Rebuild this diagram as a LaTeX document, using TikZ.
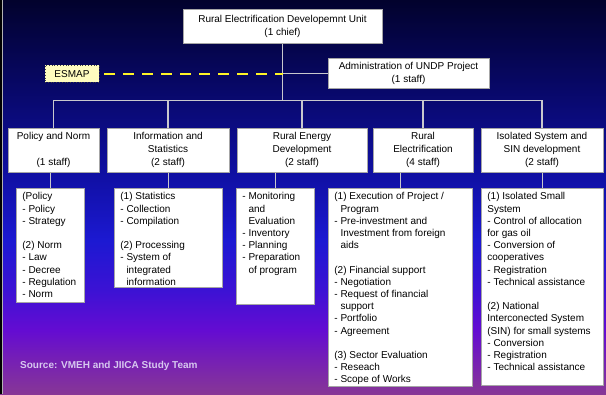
\documentclass[tikz,border=0pt]{standalone}
\usepackage{fontspec}
\setmainfont{Liberation Sans}
\usetikzlibrary{positioning,calc}

\definecolor{bgtop}{RGB}{2,2,45}
\definecolor{bgnavy}{RGB}{8,8,105}
\definecolor{bgblue}{RGB}{15,15,160}
\definecolor{bgroyal}{RGB}{28,25,210}
\definecolor{bgindigo}{RGB}{60,18,212}
\definecolor{bgviolet}{RGB}{100,12,210}
\definecolor{bgpurple}{RGB}{118,32,180}
\definecolor{bgbottom}{RGB}{135,55,150}
\definecolor{sourcetext}{RGB}{215,200,240}
\definecolor{linkgray}{RGB}{200,200,205}

\pgfdeclareverticalshading{slidebg}{100bp}{color(0bp)=(bgbottom); color(25bp)=(bgbottom);
  color(29.3bp)=(bgpurple); color(33.1bp)=(bgviolet); color(38.2bp)=(bgindigo); color(44.5bp)=(bgroyal);
  color(53.4bp)=(bgblue); color(63.6bp)=(bgnavy); color(75bp)=(bgtop); color(100bp)=(bgtop)}

% item list inside the lower boxes
\newcommand{\itemlines}[3]{\parbox[t][#1][t]{#2}{\raggedright #3}}

\begin{document}
\begin{tikzpicture}[
    x=1pt, y=-1pt,
    font=\fontsize{10}{12.2}\selectfont,
    unitbox/.style={draw=gray!70, fill=white, line width=0.8pt, inner sep=0pt, align=center, font=\fontsize{10}{13}\selectfont},
    itembox/.style={draw=gray!70, fill=white, line width=0.8pt, anchor=north west, inner xsep=6pt, inner ysep=4pt},
    esmapbox/.style={draw=black!75, dotted, line width=0.8pt, fill=yellow!25, inner sep=0pt, minimum width=54pt, minimum height=17pt},
    link/.style={draw=linkgray, line width=1.3pt},
    dashlink/.style={draw=yellow!85!white, line width=2.2pt, dash pattern=on 11pt off 8pt}
]

\shade[shading=slidebg] (0,0) rectangle (606,394);
\fill[black] (0,0) rectangle (2,394);
\draw[gray!60, line width=0.6pt] (2.4,0) -- (2.4,394);
\useasboundingbox (0,0) rectangle (606,394);

% top of the chart
\node[unitbox, minimum width=199pt, minimum height=34pt] (unit) at (282.5,26) {Rural Electrification Developemnt Unit\\(1 chief)};
\node[unitbox, minimum width=161pt, minimum height=30pt, font=\fontsize{10}{12.5}\selectfont] (undp) at (408.5,73) {Administration of UNDP Project\\(1 staff)};
\node[esmapbox] (esmap) at (72,73.5) {ESMAP};

% sections
\node[unitbox, minimum width=91pt, minimum height=44pt] (policy) at (53.5,150) {Policy and Norm\\[13pt](1 staff)};
\node[unitbox, minimum width=122pt, minimum height=44pt] (info) at (168,150) {Information and\\Statistics\\(2 staff)};
\node[unitbox, minimum width=130pt, minimum height=44pt] (energy) at (302,150) {Rural Energy\\Development\\(2 staff)};
\node[unitbox, minimum width=100pt, minimum height=44pt] (rural) at (423,150) {Rural\\Electrification\\(4 staff)};
\node[unitbox, minimum width=122pt, minimum height=44pt] (isolated) at (542,150) {Isolated System and\\SIN development\\(2 staff)};

% tasks of each section
\node[itembox] (policyitems) at (16,188) {\itemlines{106pt}{56pt}{(Policy\\- Policy\\- Strategy\\[\baselineskip]
  (2) Norm\\- Law\\- Decree\\- Regulation\\- Norm}};
\node[itembox] (infoitems) at (114,188) {\itemlines{91pt}{96pt}{(1) Statistics\\- Collection\\- Compilation\\[\baselineskip]
  (2) Processing\\- System of\\\hspace*{6.1pt}integrated\\\hspace*{6.1pt}information}};
\node[itembox] (energyitems) at (236,188) {\itemlines{108pt}{66pt}{- Monitoring\\\hspace*{6.1pt}and\\\hspace*{6.1pt}Evaluation\\
  - Inventory\\- Planning\\- Preparation\\\hspace*{6.1pt}of program}};
\node[itembox] (ruralitems) at (328,188) {\itemlines{190pt}{132pt}{(1) Execution of Project /\\\hspace*{6.1pt}Program\\
  - Pre-investment and\\\hspace*{6.1pt}Investment from foreign\\\hspace*{6.1pt}aids\\[\baselineskip]
  (2) Financial support\\- Negotiation\\- Request of financial\\\hspace*{6.1pt}support\\- Portfolio\\- Agreement\\[\baselineskip]
  (3) Sector Evaluation\\- Reseach\\- Scope of Works}};
\node[itembox] (isolateditems) at (481,188) {\itemlines{189pt}{110pt}{(1) Isolated Small\\System\\
  - Control of allocation\\for gas oil\\- Conversion of\\cooperatives\\- Registration\\- Technical assistance\\[\baselineskip]
  (2) National\\Interconected System\\(SIN) for small systems\\- Conversion\\- Registration\\- Technical assistance}};

\node[anchor=west, inner sep=0pt, text=sourcetext, font=\fontsize{10}{12}\selectfont\bfseries] (source) at (20,366) {Source: VMEH and JIICA Study Team};

% connectors
\draw[link] (unit.south) -- ++(0,57) coordinate (bus);
\foreach \n in {policy,info,energy,rural,isolated}
  \draw[link] (bus) -| (\n.north);
\draw[link] (undp.west) -- (undp.west -| bus);
\draw[dashlink, shorten <=5pt] (esmap.east) -- (esmap.east -| bus);
\foreach \n in {policy,info,energy,rural,isolated}
  \draw[link] (\n items.north) -- (\n items.north |- \n.south);

\end{tikzpicture}
\end{document}
